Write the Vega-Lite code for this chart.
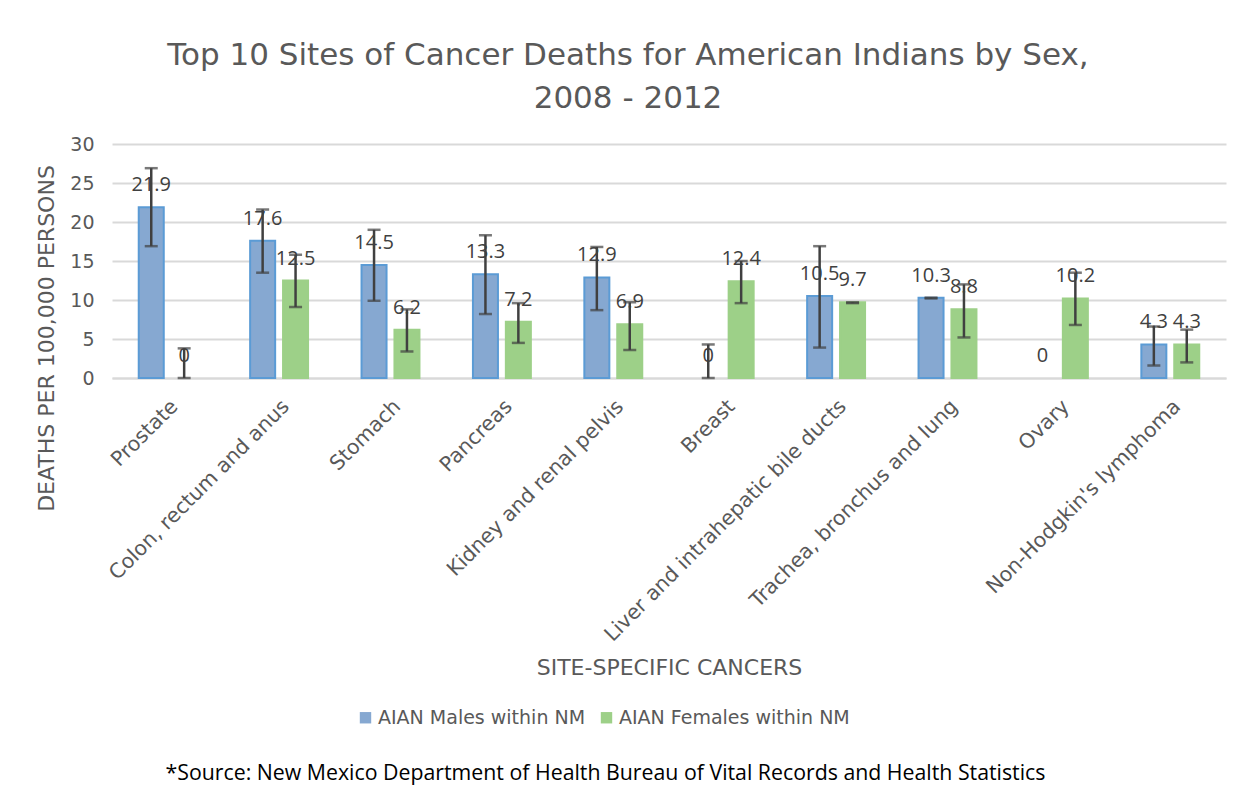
{
  "$schema": "https://vega.github.io/schema/vega-lite/v6.json",
  "background": "white",
  "padding": {"left": 34, "top": 40, "right": 20, "bottom": 10},
  "title": {
    "text": "*Source: New Mexico Department of Health Bureau of Vital Records and Health Statistics",
    "orient": "bottom",
    "anchor": "middle",
    "font": "Open Sans",
    "fontSize": 21.3,
    "fontWeight": "normal",
    "color": "#000000",
    "offset": 35,
    "dx": -25
  },
  "config": {
    "view": {"stroke": null},
    "font": "DejaVu Sans",
    "axisY": {
      "tickCount": 6,
      "titleFont": "DejaVu Sans",
      "titleFontSize": 22,
      "titleFontWeight": "normal",
      "titleColor": "#595959",
      "labelFont": "DejaVu Sans",
      "labelFontSize": 19,
      "labelColor": "#595959",
      "labelPadding": 18,
      "labelOverlap": false,
      "domain": false,
      "ticks": false,
      "gridColor": "#D9D9D9",
      "gridWidth": 2
    }
  },
  "vconcat": [
    {
      "width": 1114,
      "height": 234,
      "title": {
        "text": ["Top 10 Sites of Cancer Deaths for American Indians by Sex,", "2008 - 2012"],
        "anchor": "middle",
        "font": "DejaVu Sans",
        "fontSize": 31,
        "fontWeight": "normal",
        "color": "#595959",
        "lineHeight": 43,
        "offset": 20,
        "dx": -41
      },
      "data": {
        "values": [
          {"site": "Prostate", "sex": "AIAN Males within NM", "rate": 21.9, "lo": 16.9, "hi": 26.9},
          {"site": "Prostate", "sex": "AIAN Females within NM", "rate": 0, "lo": 0, "hi": 3.8},
          {"site": "Colon, rectum and anus", "sex": "AIAN Males within NM", "rate": 17.6, "lo": 13.5, "hi": 21.6},
          {"site": "Colon, rectum and anus", "sex": "AIAN Females within NM", "rate": 12.5, "lo": 9.1, "hi": 15.8},
          {"site": "Stomach", "sex": "AIAN Males within NM", "rate": 14.5, "lo": 9.9, "hi": 19.0},
          {"site": "Stomach", "sex": "AIAN Females within NM", "rate": 6.2, "lo": 3.4, "hi": 8.8},
          {"site": "Pancreas", "sex": "AIAN Males within NM", "rate": 13.3, "lo": 8.2, "hi": 18.3},
          {"site": "Pancreas", "sex": "AIAN Females within NM", "rate": 7.2, "lo": 4.5, "hi": 9.6},
          {"site": "Kidney and renal pelvis", "sex": "AIAN Males within NM", "rate": 12.9, "lo": 8.7, "hi": 16.8},
          {"site": "Kidney and renal pelvis", "sex": "AIAN Females within NM", "rate": 6.9, "lo": 3.6, "hi": 9.7},
          {"site": "Breast", "sex": "AIAN Males within NM", "rate": 0, "lo": 0, "hi": 4.3},
          {"site": "Breast", "sex": "AIAN Females within NM", "rate": 12.4, "lo": 9.6, "hi": 15.0},
          {"site": "Liver and intrahepatic bile ducts", "sex": "AIAN Males within NM", "rate": 10.5, "lo": 3.9, "hi": 16.9},
          {"site": "Liver and intrahepatic bile ducts", "sex": "AIAN Females within NM", "rate": 9.7, "lo": 9.6, "hi": 9.7},
          {"site": "Trachea, bronchus and lung", "sex": "AIAN Males within NM", "rate": 10.3, "lo": 10.2, "hi": 10.3},
          {"site": "Trachea, bronchus and lung", "sex": "AIAN Females within NM", "rate": 8.8, "lo": 5.2, "hi": 12.0},
          {"site": "Ovary", "sex": "AIAN Males within NM", "rate": 0, "lo": null, "hi": null},
          {"site": "Ovary", "sex": "AIAN Females within NM", "rate": 10.2, "lo": 6.8, "hi": 13.5},
          {"site": "Non-Hodgkin's lymphoma", "sex": "AIAN Males within NM", "rate": 4.3, "lo": 1.6, "hi": 6.6},
          {"site": "Non-Hodgkin's lymphoma", "sex": "AIAN Females within NM", "rate": 4.3, "lo": 2.0, "hi": 6.2}
        ]
      },
      "encoding": {
        "x": {
          "field": "site",
          "type": "nominal",
          "sort": null,
          "scale": {"paddingInner": 0.48, "paddingOuter": 0.24},
          "axis": {
            "title": "SITE-SPECIFIC CANCERS",
            "titleFont": "DejaVu Sans",
            "titleFontSize": 22,
            "titleFontWeight": "normal",
            "titleColor": "#595959",
            "titleY": 289,
            "titleBaseline": "middle",
            "labelAngle": -45,
            "labelFont": "DejaVu Sans",
            "labelFontSize": 20.5,
            "labelColor": "#595959",
            "labelPadding": 18,
            "labelLimit": 500,
            "ticks": false,
            "domainColor": "#D9D9D9",
            "domainWidth": 2
          }
        },
        "xOffset": {
          "field": "sex",
          "type": "nominal",
          "sort": ["AIAN Males within NM", "AIAN Females within NM"],
          "scale": {"paddingInner": 0.24, "paddingOuter": 0}
        }
      },
      "layer": [
        {
          "mark": {"type": "bar", "strokeWidth": 2},
          "encoding": {
            "y": {
              "field": "rate",
              "type": "quantitative",
              "scale": {"domain": [0, 30]},
              "axis": {
                "title": "DEATHS PER 100,000 PERSONS",
                "titleY": 194,
                "titleX": -66,
                "titleAngle": -90,
                "titleBaseline": "middle"
              }
            },
            "color": {
              "field": "sex",
              "type": "nominal",
              "sort": ["AIAN Males within NM", "AIAN Females within NM"],
              "scale": {"domain": ["AIAN Males within NM", "AIAN Females within NM"], "range": ["#86A8D1", "#9DD088"]},
              "legend": {
                "title": null,
                "orient": "none",
                "legendX": 244,
                "legendY": 564,
                "direction": "horizontal",
                "symbolType": "square",
                "symbolSize": 130,
                "symbolStrokeWidth": 0,
                "labelFont": "DejaVu Sans",
                "labelFontSize": 19,
                "labelColor": "#595959",
                "labelOffset": 3,
                "columnPadding": 11,
                "labelLimit": 400
              }
            },
            "stroke": {
              "field": "sex",
              "type": "nominal",
              "scale": {"domain": ["AIAN Males within NM", "AIAN Females within NM"], "range": ["#5B9BD5", "#9DD088"]},
              "legend": null
            },
            "strokeOpacity": {
              "condition": {"test": "datum.rate == 0", "value": 0},
              "value": 1
            }
          }
        },
        {
          "mark": {"type": "rule", "color": "#404040", "strokeWidth": 2.5},
          "encoding": {
            "y": {"field": "lo", "type": "quantitative"},
            "y2": {"field": "hi"}
          }
        },
        {
          "mark": {"type": "tick", "color": "#404040", "thickness": 2.5, "size": 13, "orient": "horizontal"},
          "encoding": {
            "y": {"field": "lo", "type": "quantitative"}
          }
        },
        {
          "mark": {"type": "tick", "color": "#404040", "thickness": 2.5, "size": 13, "orient": "horizontal"},
          "encoding": {
            "y": {"field": "hi", "type": "quantitative"}
          }
        },
        {
          "mark": {"type": "text", "font": "Open Sans", "fontSize": 20, "color": "#404040", "baseline": "alphabetic", "dy": -16},
          "encoding": {
            "y": {"field": "rate", "type": "quantitative"},
            "text": {"field": "rate", "type": "quantitative", "format": "~g"}
          }
        }
      ]
    }
  ]
}
